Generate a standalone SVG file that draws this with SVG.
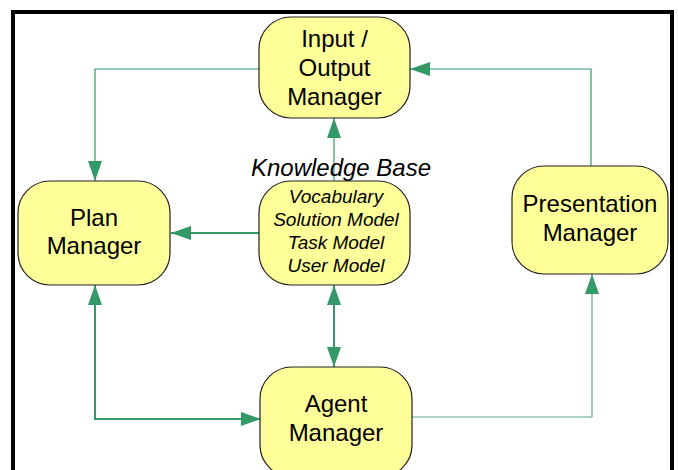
<svg xmlns="http://www.w3.org/2000/svg" width="678" height="470" viewBox="0 0 678 470">
  <style>
    .node { fill: #FFFF99; stroke: #222; stroke-width: 1.2; }
    .label { font-family: "Liberation Sans", Arial, sans-serif; font-size: 24px; fill: #000; text-anchor: middle; }
    .kb-title { font-family: "Liberation Sans", Arial, sans-serif; font-size: 24px; font-style: italic; fill: #000; text-anchor: middle; }
    .kb-item { font-family: "Liberation Sans", Arial, sans-serif; font-size: 19px; font-style: italic; fill: #000; text-anchor: middle; }
    .wire { fill: none; stroke: #339966; }
    .thin { stroke-width: 1.2; }
    .thick { stroke-width: 2; }
  </style>
  <defs>
    <marker id="arrow" viewBox="0 0 20 14" refX="20" refY="7" markerWidth="20" markerHeight="14" markerUnits="userSpaceOnUse" orient="auto-start-reverse">
      <path d="M0,0 L20,7 L0,14 Z" fill="#339966"/>
    </marker>
  </defs>

  <rect width="678" height="470" fill="#fff"/>
  <!-- outer frame -->
  <rect x="13" y="12" width="659" height="480" fill="none" stroke="#000" stroke-width="4"/>

  <g id="connectors">
    <path class="wire thin" d="M259,69 H95 V181" marker-end="url(#arrow)"/>
    <path class="wire thin" d="M591,166 V69 H410" marker-end="url(#arrow)"/>
    <path class="wire thick" d="M259,233 H171" marker-end="url(#arrow)"/>
    <path class="wire thin" d="M334,181 V118" marker-end="url(#arrow)"/>
    <path class="wire thick" d="M334,285 V367" marker-start="url(#arrow)" marker-end="url(#arrow)"/>
    <path class="wire thick" d="M95,285 V419 H261" marker-start="url(#arrow)" marker-end="url(#arrow)"/>
    <path class="wire thin" d="M412,417 H592 V274" marker-end="url(#arrow)" stroke-opacity="0.8"/>
  </g>

  <g id="io-manager">
    <rect class="node" x="259" y="17" width="151" height="101" rx="32"/>
    <text class="label" x="334.5" y="47">Input /</text>
    <text class="label" x="334.5" y="76">Output</text>
    <text class="label" x="334.5" y="105">Manager</text>
  </g>

  <g id="plan-manager">
    <rect class="node" x="18" y="181" width="152" height="104" rx="32"/>
    <text class="label" x="94" y="226">Plan</text>
    <text class="label" x="94" y="254">Manager</text>
  </g>

  <g id="knowledge-base">
    <text class="kb-title" x="341" y="176">Knowledge Base</text>
    <rect class="node" x="259" y="181" width="151" height="104" rx="32"/>
    <text class="kb-item" x="336" y="203">Vocabulary</text>
    <text class="kb-item" x="336" y="226">Solution Model</text>
    <text class="kb-item" x="336" y="249">Task Model</text>
    <text class="kb-item" x="336" y="272">User Model</text>
  </g>

  <g id="presentation-manager">
    <rect class="node" x="512" y="166" width="156" height="108" rx="32"/>
    <text class="label" x="590" y="212">Presentation</text>
    <text class="label" x="590" y="241">Manager</text>
  </g>

  <g id="agent-manager">
    <rect class="node" x="260" y="367" width="152" height="110" rx="32"/>
    <text class="label" x="336" y="412">Agent</text>
    <text class="label" x="336" y="441">Manager</text>
  </g>
</svg>
